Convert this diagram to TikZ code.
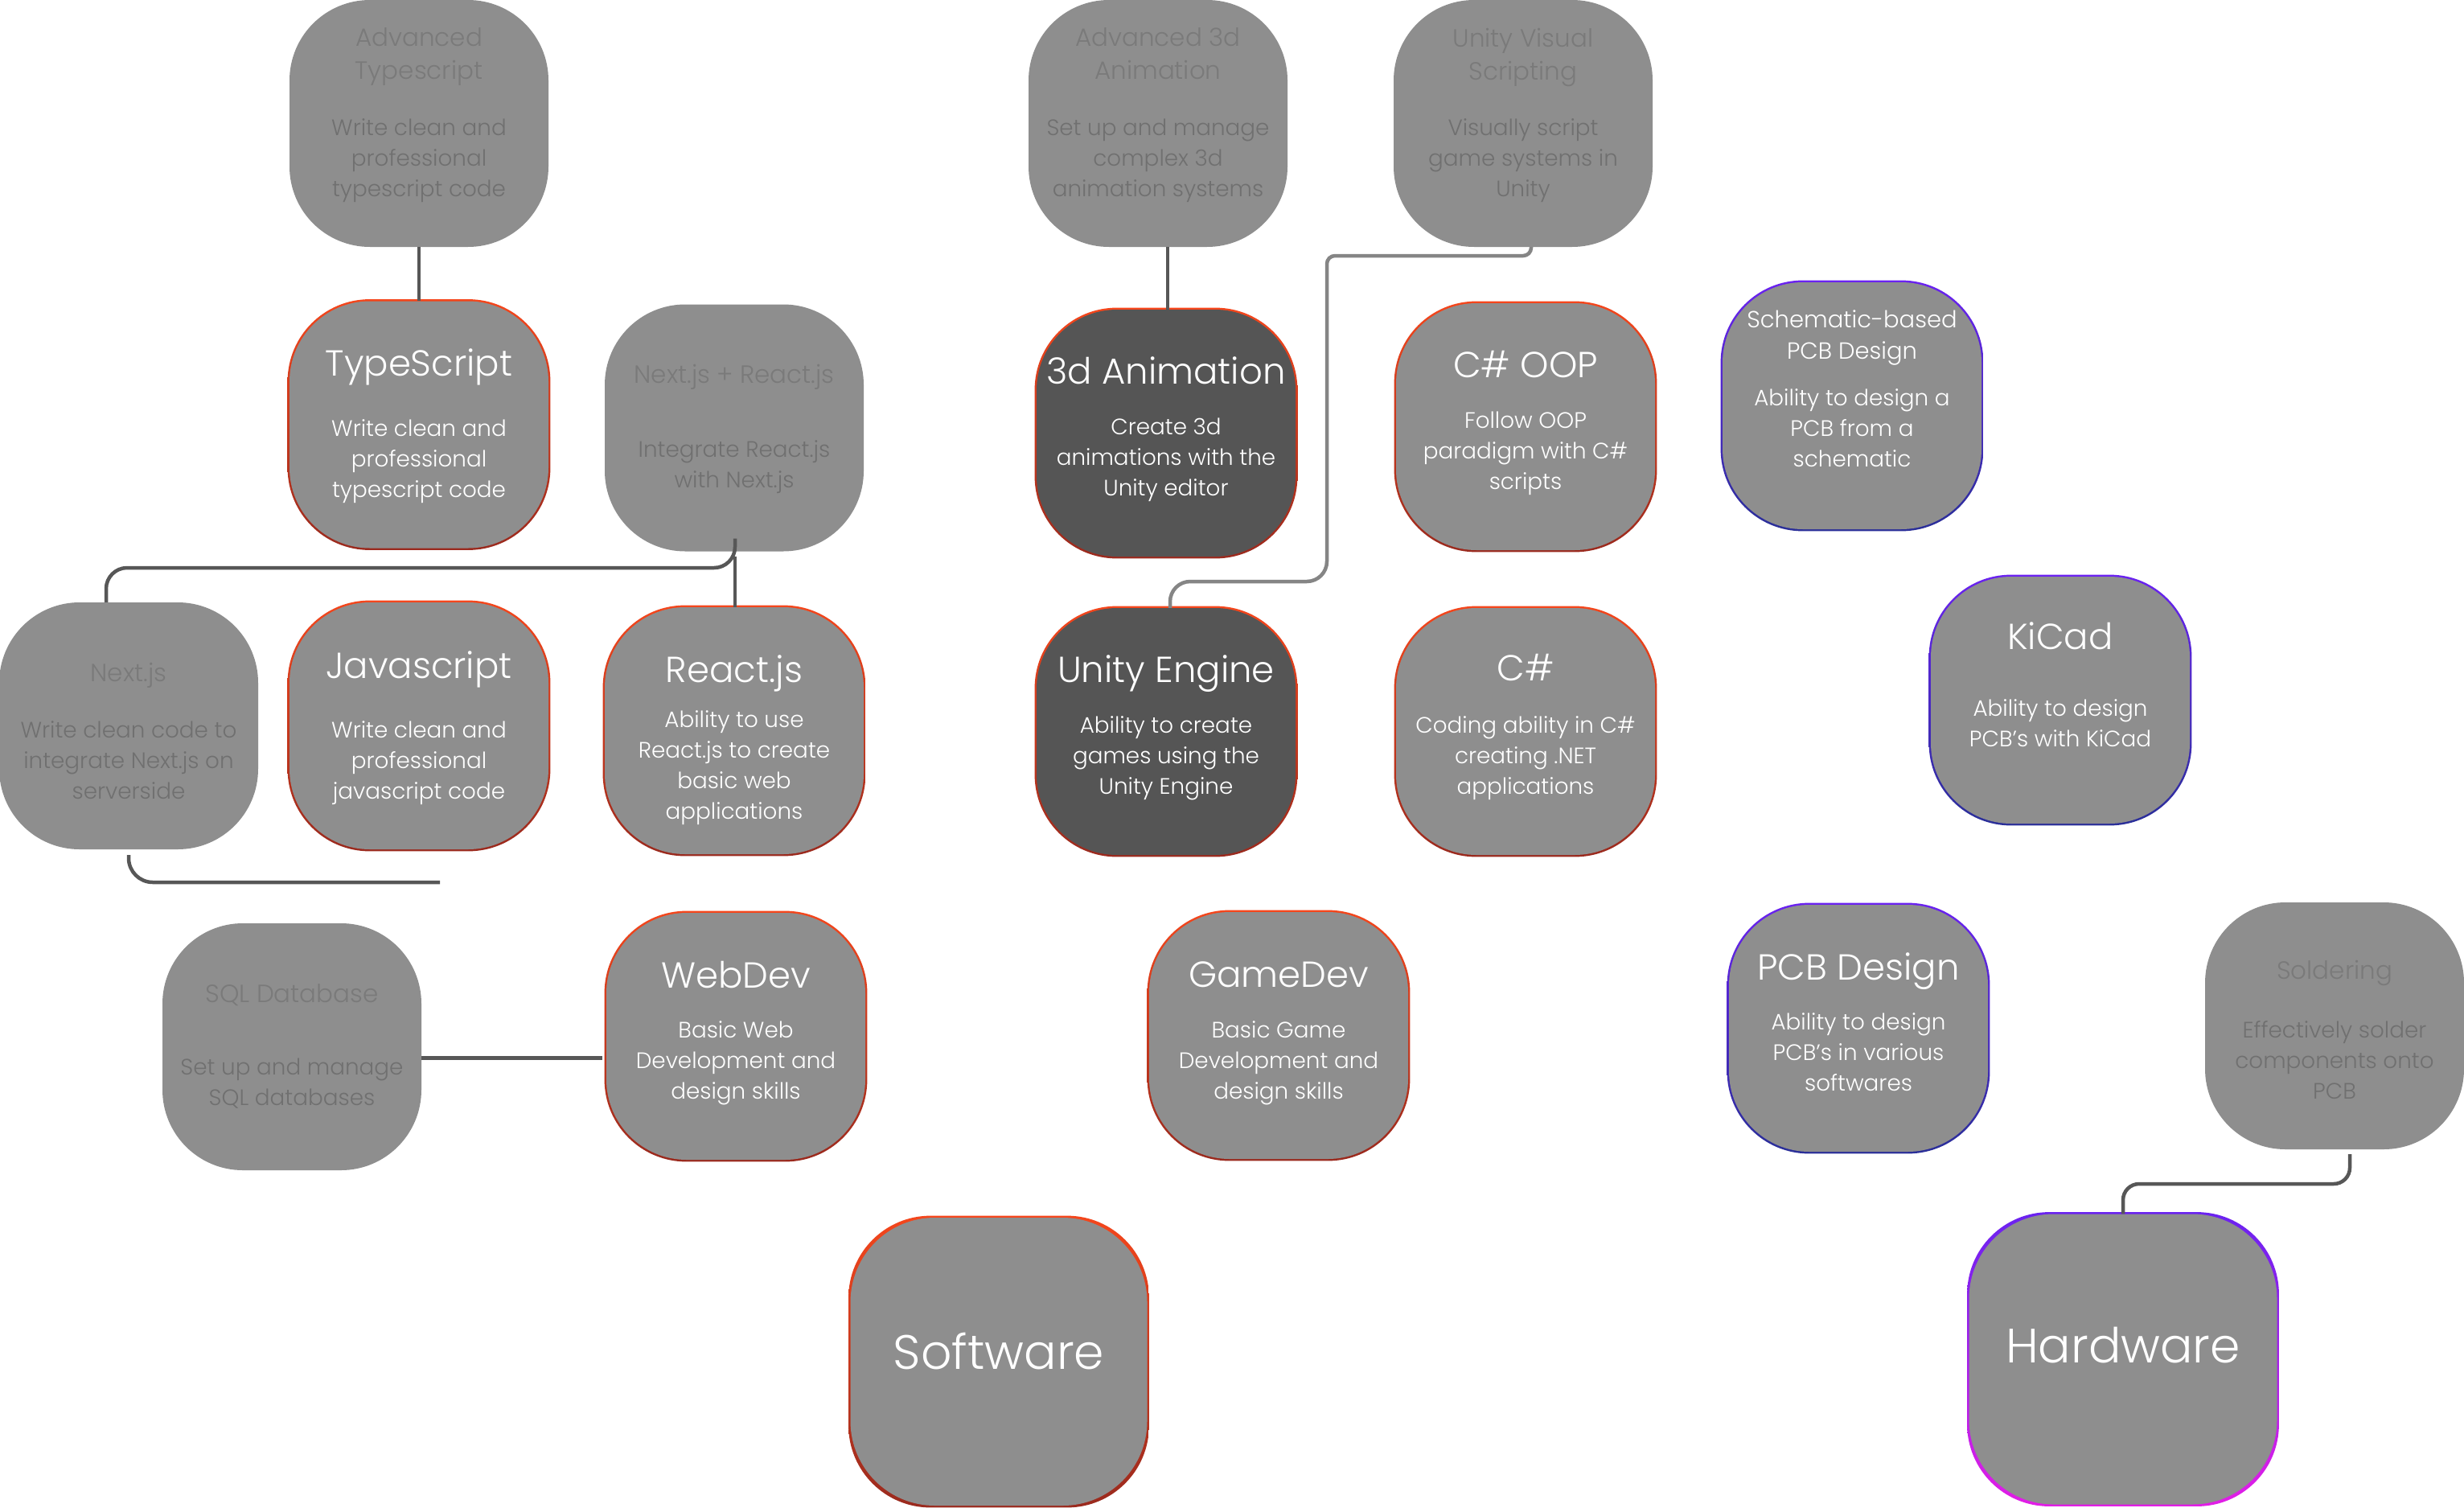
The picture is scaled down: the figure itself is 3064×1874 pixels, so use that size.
\documentclass[tikz,border=0pt]{standalone}
\usepackage{fontspec}
\setmainfont{Poppins}[UprightFont=* Light]
\usetikzlibrary{backgrounds}
\definecolor{boxgray}{HTML}{8E8E8E}
\definecolor{darkbox}{HTML}{555555}
\definecolor{fadetitle}{HTML}{7A7A7A}
\definecolor{fadedesc}{HTML}{707070}
\definecolor{linegray}{HTML}{575757}
\definecolor{lightline}{HTML}{858585}
\definecolor{redtop}{HTML}{F4461C}
\definecolor{redbot}{HTML}{9A2A1E}
\definecolor{purtop}{HTML}{6A22F0}
\definecolor{purbot}{HTML}{2A2F98}
\definecolor{magbot}{HTML}{E21EE6}
\tikzset{
 skill/.style={rectangle, rounded corners=100pt, minimum width=322pt, minimum height=307pt, inner sep=0pt, fill=boxgray},
 darkskill/.style={skill, fill=darkbox},
 rootbox/.style={skill, minimum width=369pt, minimum height=358pt, rounded corners=105pt},
 ttl/.style={inner sep=0pt, align=center, text=white, text depth=0pt, font=\fontsize{45}{50}\selectfont},
 dsc/.style={inner sep=0pt, align=center, text=white, text depth=0pt, yshift=-3pt, font=\fontsize{27.8}{38}\selectfont},
 fttl/.style={ttl, text=fadetitle, font=\fontsize{31}{41}\selectfont},
 fdsc/.style={dsc, text=fadedesc},
 sttl/.style={ttl, font=\fontsize{29}{39}\selectfont},
 roottxt/.style={inner sep=0pt, text=white, font=\fontsize{60}{66}\selectfont},
 conn/.style={draw=linegray, line width=4.5pt},
 softconn/.style={draw=lightline, line width=4.5pt},
}
\newcommand\rimshade[3]{\begin{scope}[on background layer]\shade[rounded corners=102pt, top color=#2, bottom color=#3] ([shift={(-2.2,-2.2)}]#1.north west) rectangle ([shift={(2.2,2.2)}]#1.south east);\end{scope}}
\begin{document}
\begin{tikzpicture}[x=1pt,y=-1pt]
\begin{scope}[on background layer]
\fill[white] (0,0) rectangle (3064,1874);
\end{scope}
\useasboundingbox (0,0) rectangle (3064,1874);

% ---------- boxes ----------
\node[skill] (advts) at (521,153.5) {};
\node[skill] (ts) at (521,528) {};
\node[skill] (nr) at (913,532) {};
\node[skill] (adv3d) at (1440,153.5) {};
\node[skill] (uvs) at (1894,153.5) {};
\node[darkskill] (anim3d) at (1450,538.5) {};
\node[skill] (csoop) at (1897,530.5) {};
\node[skill] (schem) at (2303,504.5) {};
\node[skill] (nextjs) at (160,902.5) {};
\node[skill] (js) at (521,902.5) {};
\node[skill] (react) at (913,908.5) {};
\node[darkskill] (unity) at (1450,909.5) {};
\node[skill] (cs) at (1897,909.5) {};
\node[skill] (kicad) at (2562,870.5) {};
\node[skill] (sql) at (363,1301.5) {};
\node[skill] (webdev) at (915,1288.5) {};
\node[skill] (gamedev) at (1590,1287.5) {};
\node[skill] (pcb) at (2311,1278.5) {};
\node[skill] (solder) at (2903,1275.5) {};
\node[rootbox] (software) at (1242,1693) {};
\node[rootbox, minimum width=383pt, minimum height=361pt] (hardware) at (2640,1690) {};

% ---------- rims ----------
\rimshade{ts}{redtop}{redbot}
\rimshade{anim3d}{redtop}{redbot}
\rimshade{csoop}{redtop}{redbot}
\rimshade{js}{redtop}{redbot}
\rimshade{react}{redtop}{redbot}
\rimshade{unity}{redtop}{redbot}
\rimshade{cs}{redtop}{redbot}
\rimshade{webdev}{redtop}{redbot}
\rimshade{gamedev}{redtop}{redbot}
\rimshade{software}{redtop}{redbot}
\rimshade{schem}{purtop}{purbot}
\rimshade{kicad}{purtop}{purbot}
\rimshade{pcb}{purtop}{purbot}
\rimshade{hardware}{purtop}{magbot}

% ---------- texts ----------
\node[fttl] (advts-t) at (521,67) {Advanced\\Typescript};
\node[fdsc] (advts-d) at (521,193) {Write clean and\\professional\\typescript code};
\node[ttl] (ts-t) at (521,451) {TypeScript};
\node[dsc] (ts-d) at (521,567) {Write clean and\\professional\\typescript code};
\node[fttl] (nr-t) at (913,465) {Next.js + React.js};
\node[fdsc] (nr-d) at (913,574) {Integrate React.js\\with Next.js};
\node[fttl] (adv3d-t) at (1440,67) {Advanced 3d\\Animation};
\node[fdsc] (adv3d-d) at (1440,193) {Set up and manage\\complex 3d\\animation systems};
\node[fttl] (uvs-t) at (1894,67) {Unity Visual\\Scripting};
\node[fdsc] (uvs-d) at (1894,193) {Visually script\\game systems in\\Unity};
\node[ttl] (anim3d-t) at (1450,461) {3d Animation};
\node[dsc] (anim3d-d) at (1450,565) {Create 3d\\animations with the\\Unity editor};
\node[ttl] (csoop-t) at (1897,453) {C\# OOP};
\node[dsc] (csoop-d) at (1897,557) {Follow OOP\\paradigm with C\#\\scripts};
\node[sttl] (schem-t) at (2303,416) {Schematic-based\\PCB Design};
\node[dsc] (schem-d) at (2303,529) {Ability to design a\\PCB from a\\schematic};
\node[fttl] (nextjs-t) at (160,836) {Next.js};
\node[fdsc] (nextjs-d) at (160,942) {Write clean code to\\integrate Next.js on\\serverside};
\node[ttl] (js-t) at (521,827) {Javascript};
\node[dsc] (js-d) at (521,942) {Write clean and\\professional\\javascript code};
\node[ttl] (react-t) at (913,832) {React.js};
\node[dsc] (react-d) at (913,948) {Ability to use\\React.js to create\\basic web\\applications};
\node[ttl] (unity-t) at (1450,832) {Unity Engine};
\node[dsc] (unity-d) at (1450,936) {Ability to create\\games using the\\Unity Engine};
\node[ttl] (cs-t) at (1897,830) {C\#};
\node[dsc] (cs-d) at (1897,936) {Coding ability in C\#\\creating .NET\\applications};
\node[ttl] (kicad-t) at (2562,791) {KiCad};
\node[dsc] (kicad-d) at (2562,896) {Ability to design\\PCB’s with KiCad};
\node[fttl] (sql-t) at (363,1235) {SQL Database};
\node[fdsc] (sql-d) at (363,1342) {Set up and manage\\SQL databases};
\node[ttl] (webdev-t) at (915,1212) {WebDev};
\node[dsc] (webdev-d) at (915,1315) {Basic Web\\Development and\\design skills};
\node[ttl] (gamedev-t) at (1590,1212) {GameDev};
\node[dsc] (gamedev-d) at (1590,1315) {Basic Game\\Development and\\design skills};
\node[ttl] (pcb-t) at (2311,1202) {PCB Design};
\node[dsc] (pcb-d) at (2311,1305) {Ability to design\\PCB’s in various\\softwares};
\node[fttl] (solder-t) at (2903,1206) {Soldering};
\node[fdsc] (solder-d) at (2903,1315) {Effectively solder\\components onto\\PCB};
\node[roottxt] (software-t) at (1242,1680) {Software};
\node[roottxt] (hardware-t) at (2640,1673) {Hardware};

% ---------- connectors ----------
\draw[conn] (advts.south) -- (ts.north);
\draw[conn] ([xshift=2pt]anim3d.north |- adv3d.south) -- ([xshift=2pt]anim3d.north);
\draw[softconn] ([xshift=10pt]uvs.south) [rounded corners=10pt] -- (1904,318) -- (1650,318) [rounded corners=25pt] -- (1650,723) -- (1455,723) -- ([xshift=5pt]unity.north);
\draw[conn, rounded corners=26pt] ([xshift=1pt,yshift=16pt]nr.south) -- (914,706) -- (132,706) -- ([xshift=-28pt]nextjs.north);
\draw[conn] ([xshift=1pt,yshift=-6pt]nr.south) -- ([xshift=1pt]react.north);
\coordinate (njend) at (547,1097);
\draw[conn, rounded corners=30pt] ([yshift=-7pt]nextjs.south) |- (njend);
\coordinate (sqlout) at ([yshift=-14pt]sql.east);
\draw[conn] (sqlout) -- ([xshift=-5pt]sqlout -| webdev.west);
\draw[conn, rounded corners=20pt] ([xshift=19pt,yshift=-6pt]solder.south) -- (2922,1472) -- (2640,1472) -- (hardware.north);
\end{tikzpicture}
\end{document}
